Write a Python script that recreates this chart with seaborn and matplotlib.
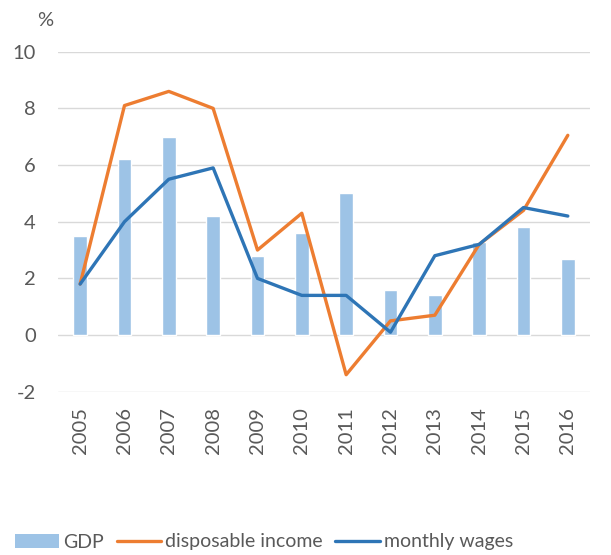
import numpy as np
import pandas as pd
import matplotlib
matplotlib.use("Agg")
import matplotlib.pyplot as plt
import seaborn as sns
from matplotlib.patches import Patch
from matplotlib.lines import Line2D

years = ["2005", "2006", "2007", "2008", "2009", "2010", "2011", "2012", "2013", "2014", "2015", "2016"]
gdp = [3.5, 6.2, 7.0, 4.2, 2.8, 3.6, 5.0, 1.6, 1.4, 3.3, 3.8, 2.7]
disposable_income = [1.8, 8.1, 8.6, 8.0, 3.0, 4.3, -1.4, 0.5, 0.7, 3.2, 4.4, 7.05]
monthly_wages = [1.8, 4.0, 5.5, 5.9, 2.0, 1.4, 1.4, 0.1, 2.8, 3.2, 4.5, 4.2]
y_ticks = [-2, 0, 2, 4, 6, 8, 10]

sns.set_theme(style="white")
plt.rcParams["font.family"] = ["Lato", "DejaVu Sans"]

GREY = "#595959"
BAR = "#9DC3E6"
ORANGE = "#ED7D31"
BLUE = "#2E75B6"
FS = 14.5

df = pd.DataFrame({
    "year": years,
    "pos": np.arange(len(years)),
    "GDP": gdp,
    "disposable income": disposable_income,
    "monthly wages": monthly_wages,
})

fig = plt.figure(figsize=(6.11, 5.55), dpi=100)
ax = fig.add_axes([0.0949, 0.2942, 0.8707, 0.6126])

sns.barplot(data=df, x="year", y="GDP", color=BAR, width=0.31, ax=ax,
            saturation=1, zorder=2)
sns.lineplot(data=df, x="pos", y="disposable income", color=ORANGE, lw=2.4, ax=ax, zorder=3)
sns.lineplot(data=df, x="pos", y="monthly wages", color=BLUE, lw=2.4, ax=ax, zorder=4)

ax.set_xlim(-0.5, len(years) - 0.5)
ax.set_ylim(-2, 10)
ax.set_yticks(y_ticks)
ax.set_yticklabels([str(t) for t in y_ticks])
ax.set_xticks(np.arange(len(years)))
ax.set_xticklabels(years, rotation=90)
ax.set_xlabel("")
ax.set_ylabel("")
ax.grid(axis="y", color="#D9D9D9", lw=1.0, zorder=0)
ax.grid(axis="x", visible=False)
for s in ax.spines.values():
    s.set_visible(False)
ax.tick_params(axis="y", length=0, pad=16, labelsize=FS, labelcolor=GREY)
ax.tick_params(axis="x", length=0, pad=11, labelsize=FS, labelcolor=GREY)

fig.text(45 / 611, 1 - 20 / 555, "%", ha="center", va="center", fontsize=FS, color=GREY)

handles = [
    Patch(facecolor=BAR, edgecolor="none"),
    Line2D([0], [0], color=ORANGE, lw=2.4),
    Line2D([0], [0], color=BLUE, lw=2.4),
]
labels = ["GDP", "disposable income", "monthly wages"]
leg = fig.legend(handles, labels, loc="center", bbox_to_anchor=(0.432, 1 - 542 / 555),
                 ncol=3, frameon=False, fontsize=14, handlelength=2.3,
                 handletextpad=0.2, columnspacing=0.65, borderaxespad=0,
                 borderpad=0)
for t in leg.get_texts():
    t.set_color(GREY)

fig.savefig("out.png", dpi=100)
